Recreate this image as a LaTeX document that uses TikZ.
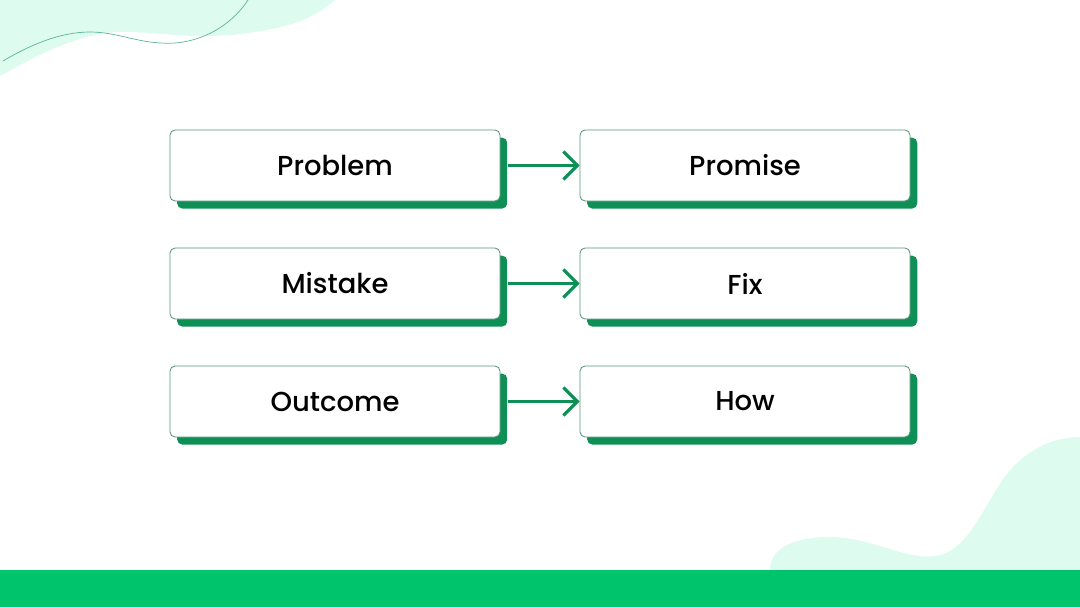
\documentclass[tikz,border=0pt]{standalone}
\usepackage{fontspec}
\setmainfont{Poppins}[UprightFont=*-Medium]
\usetikzlibrary{arrows.meta, shadows}
\definecolor{mint}{HTML}{DDFBEF}
\definecolor{barg}{HTML}{00C46C}
\definecolor{shadowg}{HTML}{0E8F55}
\definecolor{edgeg}{HTML}{5A9479}
\definecolor{wavel}{HTML}{5DB597}
\tikzset{
  card/.style={draw=edgeg, line width=0.6pt, fill=white, rounded corners=0.13cm,
    minimum width=8.25cm, minimum height=1.775cm, font=\fontsize{19.5}{22}\selectfont,
    drop shadow={shadow xshift=0.18cm, shadow yshift=-0.19cm, fill=shadowg, opacity=1}},
  link/.style={draw=shadowg, line width=2.2pt, shorten <=0.2cm,
    -{Straight Barb[length=0.35cm, width=0.7cm, line width=2.2pt]}}
}
\begin{document}
\begin{tikzpicture}[x=0.025cm, y=-0.025cm]
\useasboundingbox (0,0) rectangle (1080,607);
% background shapes
\fill[mint] (0,0) -- (335,0) .. controls (310,22) and (280,30) .. (230,35)
  .. controls (170,40) and (130,25) .. (90,36) .. controls (50,47) and (20,65) .. (0,76) -- cycle;
\draw[wavel, line width=0.5pt] (3,61) .. controls (30,45) and (60,32) .. (90,32)
  .. controls (120,32) and (140,45) .. (175,43) .. controls (210,40) and (235,20) .. (248,0);
\fill[mint] (770,570) .. controls (770,545) and (800,537) .. (830,537)
  .. controls (870,537) and (905,560) .. (935,556) .. controls (970,552) and (985,500) .. (1010,470)
  .. controls (1030,448) and (1055,437) .. (1080,437) -- (1080,570) -- cycle;
\fill[barg] (0,570) rectangle (1080,607);
% cards
\foreach \y/\a/\b/\n in {165.5/Problem/Promise/1, 283.5/Mistake/Fix/2, 401.5/Outcome/How/3}
{
    \node[card] (L\n) at (335,\y) {\a};
    \node[card] (R\n) at (745,\y) {\b};
    \draw[link] (L\n.east) -- (R\n.west);
}
\end{tikzpicture}
\end{document}
